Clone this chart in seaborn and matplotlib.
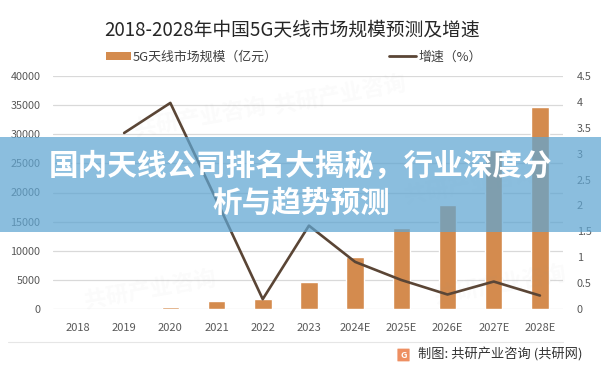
import numpy as np
import pandas as pd
import matplotlib
matplotlib.use("Agg")
import matplotlib.pyplot as plt
import seaborn as sns
from matplotlib.patches import Rectangle, Patch, FancyBboxPatch
from matplotlib.lines import Line2D

# ---------------- data ----------------
categories = ["2018", "2019", "2020", "2021", "2022", "2023",
              "2024E", "2025E", "2026E", "2027E", "2028E"]
market_size = [0, 80, 400, 1400, 1700, 4700, 9000, 13900, 17900, 27300, 34700]
growth = [np.nan, 3.40, 3.98, 2.10, 0.19, 1.61, 0.91, 0.56, 0.28, 0.53, 0.26]
left_ticks = [0, 5000, 10000, 15000, 20000, 25000, 30000, 35000, 40000]
right_ticks = [0, 0.5, 1, 1.5, 2, 2.5, 3, 3.5, 4, 4.5]

title = "2018-2028年中国5G天线市场规模预测及增速"
bar_label = "5G天线市场规模（亿元）"
line_label = "增速（%）"
banner_line1 = "国内天线公司排名大揭秘，行业深度分"
banner_line2 = "析与趋势预测"
footer = "制图: 共研产业咨询 (共研网)"
watermark = "共研产业咨询"

bar_color = "#D48B4E"
line_color = "#5A4535"
tick_color = "#595959"

sns.set_theme(style="white")
plt.rcParams["font.family"] = ["Noto Sans CJK SC", "DejaVu Sans"]

W, H = 601, 370
fig = plt.figure(figsize=(W / 100, H / 100), dpi=100)
fig.patch.set_facecolor("white")

def fx(px):
    return px / W

def fy(py):
    return 1 - py / H

ax = fig.add_axes([fx(53), fy(309), fx(563) - fx(53), fy(76) - fy(309)])
ax.set_facecolor("none")

df = pd.DataFrame({"cat": categories, "size": market_size,
                   "pos": np.arange(len(categories)), "growth": growth})

sns.barplot(data=df, x="cat", y="size", color=bar_color, width=0.38,
            saturation=1, ax=ax, zorder=3)
ax.set_xlim(-0.54, len(categories) - 0.5)
ax.set_ylim(0, 40000)
ax.set_yticks(left_ticks)
ax.set_yticklabels([str(t) for t in left_ticks])
ax.grid(axis="y", color="#D9D9D9", linewidth=0.9, zorder=0)
ax.set_axisbelow(True)
ax.set_xlabel("")
ax.set_ylabel("")
for s in ax.spines.values():
    s.set_visible(False)
ax.tick_params(axis="y", length=0, pad=9, labelsize=7.8, labelcolor=tick_color)
ax.tick_params(axis="x", length=0, pad=10, labelsize=8, labelcolor=tick_color)

ax2 = ax.twinx()
sns.lineplot(data=df.dropna(), x="pos", y="growth", color=line_color,
             linewidth=1.9, ax=ax2, zorder=4)
ax2.set_ylim(0, 4.5)
ax2.set_yticks(right_ticks)
ax2.set_yticklabels([f"{t:g}" for t in right_ticks])
ax2.set_ylabel("")
ax2.set_xlabel("")
for s in ax2.spines.values():
    s.set_visible(False)
ax2.tick_params(axis="y", length=0, pad=10, labelsize=7.8, labelcolor=tick_color)
ax2.grid(False)

# title
fig.text(fx(292), fy(30), title, ha="center", va="center",
         fontsize=13.5, color="#262626")

# legends
leg1 = fig.legend(handles=[Patch(facecolor=bar_color, edgecolor="none")],
                  labels=[bar_label], loc="center left",
                  bbox_to_anchor=(fx(106), fy(57)), frameon=False,
                  fontsize=9.3, handlelength=1.9, handleheight=0.5,
                  handletextpad=0.2, borderpad=0, borderaxespad=0,
                  labelcolor="#404040")
leg2 = fig.legend(handles=[Line2D([0], [0], color=line_color, linewidth=2)],
                  labels=[line_label], loc="center left",
                  bbox_to_anchor=(fx(389), fy(57)), frameon=False,
                  fontsize=9.3, handlelength=2.1,
                  handletextpad=0.15, borderpad=0, borderaxespad=0,
                  labelcolor="#404040")

# very faint watermarks
wm_pos = [(200, 118), (340, 95), (470, 185), (150, 290), (500, 285)]
for (x, y) in wm_pos:
    fig.text(fx(x), fy(y), watermark, ha="center", va="center",
             fontsize=16, fontweight="bold", color="#9a9a9a", alpha=0.045,
             rotation=10, zorder=1)

# footer separator and footer
fig.add_artist(Line2D([fx(8), fx(563)], [fy(342), fy(342)],
                      color="#E6E6E6", linewidth=0.8))
fig.add_artist(FancyBboxPatch((fx(398), fy(361)), fx(11), fy(349) - fy(361),
                              boxstyle="round,pad=0.001",
                              facecolor="#EE8F62", edgecolor="none"))
fig.text(fx(403.5), fy(355), "G", ha="center", va="center", fontsize=6.5,
         fontweight="bold", color="white")
fig.text(fx(418), fy(355), footer, ha="left", va="center",
         fontsize=9.5, color="#333333")

# banner overlay
fig.add_artist(Rectangle((0, fy(232)), 1, fy(137) - fy(232),
                         transform=fig.transFigure, facecolor="#60A6D2",
                         alpha=0.73, edgecolor="none", zorder=10))
fig.text(fx(301), fy(166), banner_line1, ha="center", va="center",
         fontsize=21.3, fontweight="bold", color="white", zorder=11)
fig.text(fx(301), fy(203), banner_line2, ha="center", va="center",
         fontsize=21.3, fontweight="bold", color="white", zorder=11)

fig.savefig("out.png", dpi=100)
